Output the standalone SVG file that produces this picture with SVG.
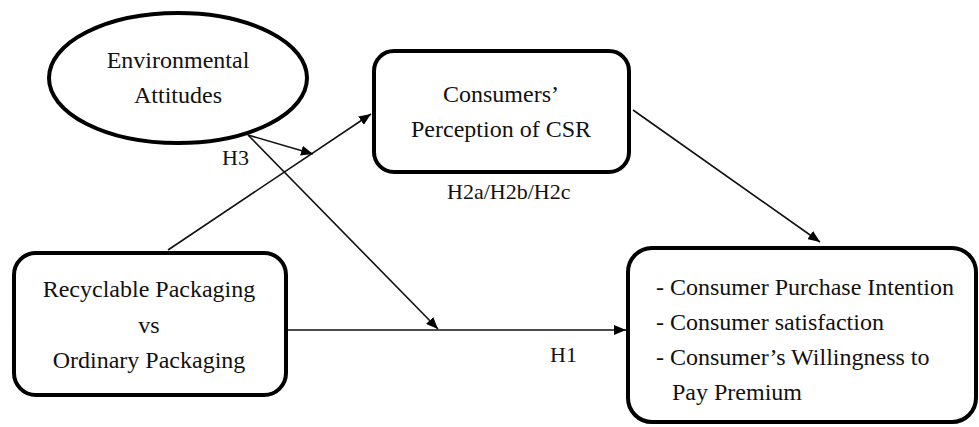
<svg xmlns="http://www.w3.org/2000/svg" width="979" height="427" viewBox="0 0 979 427">
  <style>
    .node { fill: #ffffff; stroke: #000000; stroke-width: 4; }
    .label { font-family: "Liberation Serif", "Times New Roman", serif; font-size: 24px; fill: #111111; }
    .mid { text-anchor: middle; }
    .hyp { font-family: "Liberation Serif", "Times New Roman", serif; font-size: 22px; fill: #111111; }
    .edge { fill: none; stroke: #111111; stroke-width: 1.6; marker-end: url(#arrow); }
  </style>
  <defs>
    <marker id="arrow" viewBox="0 0 12 10" refX="12" refY="5" markerWidth="12" markerHeight="10" markerUnits="userSpaceOnUse" orient="auto">
      <path d="M0,0 L12,5 L0,10 Z" fill="#000000"/>
    </marker>
  </defs>
  <rect width="979" height="427" fill="#ffffff"/>

  <!-- connectors -->
  <g id="connectors">
    <line class="edge" x1="168" y1="250" x2="371" y2="114"/>
    <line class="edge" x1="248" y1="135" x2="313" y2="154"/>
    <line class="edge" x1="248" y1="135" x2="438" y2="329"/>
    <line class="edge" x1="286" y1="330" x2="626" y2="330"/>
    <line class="edge" x1="633" y1="110" x2="820" y2="242"/>
    <text class="hyp" x="222" y="165">H3</text>
    <text class="hyp" x="447" y="199">H2a/H2b/H2c</text>
    <text class="hyp" x="550" y="362">H1</text>
  </g>

  <!-- Environmental Attitudes -->
  <g id="env-attitudes">
    <ellipse class="node" cx="178" cy="78" rx="129" ry="65" stroke-width="4.5"/>
    <text class="label mid" x="178" y="68">Environmental</text>
    <text class="label mid" x="178" y="103">Attitudes</text>
  </g>

  <!-- Consumers' Perception of CSR -->
  <g id="csr">
    <rect class="node" x="374" y="51" width="255" height="121" rx="20"/>
    <text class="label mid" x="501" y="102">Consumers’</text>
    <text class="label mid" x="501" y="137">Perception of CSR</text>
  </g>

  <!-- Recyclable vs Ordinary Packaging -->
  <g id="packaging">
    <rect class="node" x="14" y="253" width="272" height="142" rx="22"/>
    <text class="label mid" x="149" y="297">Recyclable Packaging</text>
    <text class="label mid" x="149" y="333">vs</text>
    <text class="label mid" x="149" y="368">Ordinary Packaging</text>
  </g>

  <!-- Outcomes -->
  <g id="outcomes">
    <rect class="node" x="628" y="248" width="348" height="174" rx="24"/>
    <text class="label" x="656" y="295">- Consumer Purchase Intention</text>
    <text class="label" x="656" y="330">- Consumer satisfaction</text>
    <text class="label" x="656" y="365">- Consumer’s Willingness to</text>
    <text class="label" x="672" y="400">Pay Premium</text>
  </g>
</svg>
